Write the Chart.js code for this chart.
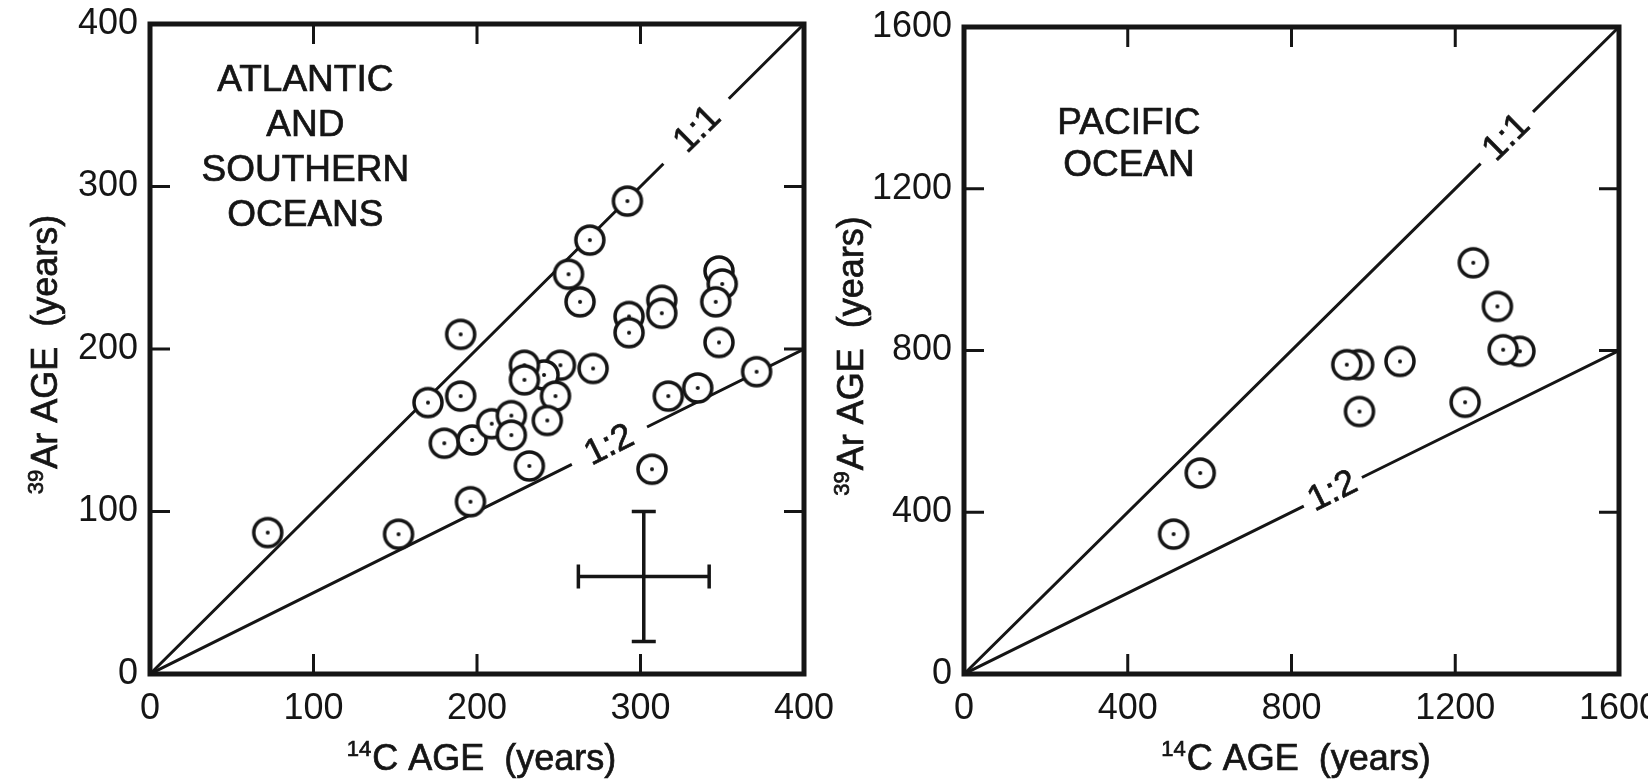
<!DOCTYPE html>
<html>
<head>
<meta charset="utf-8">
<title>39Ar vs 14C ages</title>
<script src="https://cdn.jsdelivr.net/npm/chart.js@4.4.1/dist/chart.umd.min.js"></script>
<style>
  html, body { margin: 0; padding: 0; background: #fff; }
  body { width: 1648px; height: 779px; position: relative; overflow: hidden; }
  .panel { position: absolute; top: 0; height: 779px; }
  #atlWrap { left: 0; width: 860px; }
  #pacWrap { left: 820px; width: 828px; }
</style>
</head>
<body>
<div class="panel" id="atlWrap"><canvas id="atlChart"></canvas></div>
<div class="panel" id="pacWrap"><canvas id="pacChart"></canvas></div>
<script>
/* ── Atlantic + Southern Oceans (left panel) ──────────────── */
const atlC14  = [72, 152, 170, 190, 190, 180, 197, 196, 209, 221, 221, 251, 241, 229, 229, 248, 243, 271, 232,
                 256, 263, 269, 292, 293, 293, 313, 313, 348, 350, 346, 348, 317, 335, 371, 307];
const atlAr39 = [87, 86, 167, 209, 171, 142, 144, 106, 154, 159, 147, 190, 184, 190, 181, 171, 156, 188, 128,
                 246, 229, 267, 291, 220, 210, 230, 222, 248, 240, 229, 204, 171, 176, 186, 126];
const atlTicks = [0, 100, 200, 300, 400];
const atlNote  = ['ATLANTIC', 'AND', 'SOUTHERN', 'OCEANS'];
// reference lines, broken where the ratio label sits
const atlRatio11 = [[0, 0], [314, 314], null, [354, 354], [400, 400]];
const atlRatio12 = [[0, 0], [258, 129], null, [304, 152], [400, 200]];
// typical error: centre and half-widths (years)
const atlErrCentre = [302, 60];
const atlErrHalf   = [40, 40];

/* ── Pacific Ocean (right panel) ──────────────────────────── */
const pacC14  = [512, 577, 964, 935, 966, 1065, 1224, 1244, 1303, 1358, 1317];
const pacAr39 = [346, 497, 765, 765, 649, 773, 672, 1017, 909, 798, 802];
const pacTicks = [0, 400, 800, 1200, 1600];
const pacNote  = ['PACIFIC', 'OCEAN'];
const pacRatio11 = [[0, 0], [1262, 1262], null, [1390, 1390], [1600, 1600]];
const pacRatio12 = [[0, 0], [830, 415], null, [972, 486], [1600, 800]];

const FONT = '"Liberation Sans", Arial, Helvetica, sans-serif';
const INK  = '#151515';

/* ── Helpers ──────────────────────────────────────────────── */
function toPoints(xs, ys) {
  return xs.map((x, i) => ({ x, y: ys[i] }));
}
function toSegments(pairs) {
  // null entry -> gap in the line
  const out = [];
  pairs.forEach((p, i) => {
    if (p === null) out.push({ x: pairs[i - 1][0], y: null });
    else out.push({ x: p[0], y: p[1] });
  });
  return out;
}
// circled-dot marker used as an image point style
function ringMarker(r, lw) {
  const s = Math.ceil(2 * r + lw + 2);
  const c = document.createElement('canvas');
  c.width = c.height = s;
  const g = c.getContext('2d');
  g.beginPath(); g.arc(s / 2, s / 2, r, 0, Math.PI * 2);
  g.fillStyle = '#fff'; g.fill();
  g.lineWidth = lw; g.strokeStyle = INK; g.stroke();
  g.beginPath(); g.arc(s / 2, s / 2, 2, 0, Math.PI * 2);
  g.fillStyle = INK; g.fill();
  return c;
}
const ring = ringMarker(14, 3.5);

// bolder text: fill plus a thin stroke (the scan looks heavy)
function heavyText(ctx, t, x, y) {
  ctx.fillText(t, x, y);
  ctx.strokeText(t, x, y);
}

// text with a leading superscript, centred at (0,0)
function supText(ctx, sup, main, size) {
  const supSize = Math.round(size * 0.62);
  ctx.font = `${supSize}px ${FONT}`;
  const ws = ctx.measureText(sup).width;
  ctx.font = `${size}px ${FONT}`;
  const wm = ctx.measureText(main).width;
  const x0 = -(ws + wm) / 2;
  const base = size * 0.36;
  ctx.textAlign = 'left';
  ctx.textBaseline = 'alphabetic';
  ctx.font = `${supSize}px ${FONT}`;
  heavyText(ctx, sup, x0, base - size * 0.4);
  ctx.font = `${size}px ${FONT}`;
  heavyText(ctx, main, x0 + ws + 1, base);
}

/* ── Decoration plugin: frame, inward ticks, labels, titles ── */
function decor(cfg) {
  return {
    id: 'decor',
    afterDatasetsDraw(chart) {
      const { ctx } = chart;
      const xs = chart.scales.x, ys = chart.scales.y;
      ctx.save();
      ctx.fillStyle = INK;
      ctx.strokeStyle = INK;
      ctx.lineWidth = 0.7;

      // region note
      ctx.font = `37px ${FONT}`;
      ctx.textAlign = 'center';
      ctx.textBaseline = 'middle';
      const nx = xs.getPixelForValue(cfg.noteAt[0]);
      const ny = ys.getPixelForValue(cfg.noteAt[1]);
      cfg.note.forEach((t, i) => heavyText(ctx, t, nx, ny + i * cfg.noteGap));

      // ratio labels along the lines
      cfg.ratioLabels.forEach(l => {
        const a = l.line[0], b = l.line[l.line.length - 1];
        const ang = Math.atan2(ys.getPixelForValue(b[1]) - ys.getPixelForValue(a[1]),
                               xs.getPixelForValue(b[0]) - xs.getPixelForValue(a[0]));
        ctx.save();
        ctx.translate(xs.getPixelForValue(l.at[0]), ys.getPixelForValue(l.at[1]));
        ctx.rotate(ang);
        ctx.font = `36px ${FONT}`;
        heavyText(ctx, l.text, 0, 0);
        ctx.restore();
      });

      // error cross
      if (cfg.err) {
        const [cx, cy] = cfg.err.centre, [hx, hy] = cfg.err.half;
        const x1 = xs.getPixelForValue(cx - hx), x2 = xs.getPixelForValue(cx + hx);
        const y1 = ys.getPixelForValue(cy - hy), y2 = ys.getPixelForValue(cy + hy);
        const px = xs.getPixelForValue(cx), py = ys.getPixelForValue(cy);
        const cap = 12;
        ctx.lineWidth = 3.5;
        ctx.beginPath();
        ctx.moveTo(x1, py); ctx.lineTo(x2, py);
        ctx.moveTo(px, y1); ctx.lineTo(px, y2);
        ctx.moveTo(x1, py - cap); ctx.lineTo(x1, py + cap);
        ctx.moveTo(x2, py - cap); ctx.lineTo(x2, py + cap);
        ctx.moveTo(px - cap, y1); ctx.lineTo(px + cap, y1);
        ctx.moveTo(px - cap, y2); ctx.lineTo(px + cap, y2);
        ctx.stroke();
      }
      ctx.restore();
    },
    afterDraw(chart) {
      const { ctx, chartArea: a } = chart;
      const xs = chart.scales.x, ys = chart.scales.y;
      ctx.save();
      ctx.strokeStyle = INK;
      ctx.fillStyle = INK;

      // inward ticks on all four sides
      const tl = 20;
      ctx.lineWidth = 3;
      ctx.beginPath();
      xs.ticks.slice(1, -1).forEach(t => {
        const p = xs.getPixelForValue(t.value);
        ctx.moveTo(p, a.bottom); ctx.lineTo(p, a.bottom - tl);
        ctx.moveTo(p, a.top); ctx.lineTo(p, a.top + tl);
      });
      ys.ticks.slice(1, -1).forEach(t => {
        const p = ys.getPixelForValue(t.value);
        ctx.moveTo(a.left, p); ctx.lineTo(a.left + tl, p);
        ctx.moveTo(a.right, p); ctx.lineTo(a.right - tl, p);
      });
      ctx.stroke();

      // heavy frame
      ctx.lineWidth = 5;
      ctx.strokeRect(a.left, a.top, a.right - a.left, a.bottom - a.top);

      // axis titles with superscripts
      ctx.lineWidth = 0.7;
      ctx.save();
      ctx.translate((a.left + a.right) / 2 + 4, 757);
      supText(ctx, '14', 'C AGE  (years)', 36);
      ctx.restore();

      ctx.save();
      ctx.translate(cfg.yTitleX, (a.top + a.bottom) / 2 + 6);
      ctx.rotate(-Math.PI / 2);
      supText(ctx, '39', 'Ar AGE  (years)', 36);
      ctx.restore();

      ctx.restore();
    }
  };
}

/* ── Chart builder ────────────────────────────────────────── */
function buildPanel(canvasId, p) {
  const tickFont = { family: FONT, size: 36 };
  const plain = v => String(v);           // no thousands separator
  const lineStyle = {
    type: 'scatter', showLine: true, spanGaps: false,
    borderColor: INK, borderWidth: 3, pointRadius: 0, order: 1
  };
  return new Chart(document.getElementById(canvasId), {
    type: 'scatter',
    data: {
      datasets: [
        { data: toPoints(p.xs, p.ys), pointStyle: ring, pointRadius: 15, order: 0 },
        Object.assign({ data: toSegments(p.r11) }, lineStyle),
        Object.assign({ data: toSegments(p.r12) }, lineStyle)
      ]
    },
    options: {
      responsive: true,
      maintainAspectRatio: false,
      animation: false,
      layout: { padding: { top: p.padTop, right: p.padRight, left: 0, bottom: 0 } },
      plugins: { legend: { display: false }, tooltip: { enabled: false } },
      scales: {
        x: {
          type: 'linear', min: p.ticks[0], max: p.ticks[p.ticks.length - 1],
          afterBuildTicks(s) { s.ticks = p.ticks.map(v => ({ value: v })); },
          ticks: { color: INK, font: tickFont, padding: 5, maxRotation: 0, autoSkip: false, callback: plain },
          grid: { display: false }, border: { display: false },
          afterFit(s) { s.height = 105; s.paddingLeft = 0; s.paddingRight = 0; }
        },
        y: {
          type: 'linear', min: p.ticks[0], max: p.ticks[p.ticks.length - 1],
          afterBuildTicks(s) { s.ticks = p.ticks.map(v => ({ value: v })); },
          ticks: { color: INK, font: tickFont, padding: 4, autoSkip: false, callback: plain },
          grid: { display: false }, border: { display: false },
          afterFit(s) { s.width = p.yWidth; s.paddingTop = 0; s.paddingBottom = 0; }
        }
      }
    },
    plugins: [decor(p.decor)]
  });
}

buildPanel('atlChart', {
  xs: atlC14, ys: atlAr39, r11: atlRatio11, r12: atlRatio12, ticks: atlTicks,
  padTop: 24, padRight: 56, yWidth: 150,
  decor: {
    note: atlNote, noteAt: [95, 365], noteGap: 45,
    ratioLabels: [
      { text: '1:1', at: [335, 335], line: atlRatio11 },
      { text: '1:2', at: [281, 140.5], line: atlRatio12 }
    ],
    err: { centre: atlErrCentre, half: atlErrHalf },
    yTitleX: 44
  }
});

buildPanel('pacChart', {
  xs: pacC14, ys: pacAr39, r11: pacRatio11, r12: pacRatio12, ticks: pacTicks,
  padTop: 27, padRight: 29, yWidth: 144,
  decor: {
    note: pacNote, noteAt: [403, 1360], noteGap: 42,
    ratioLabels: [
      { text: '1:1', at: [1326, 1326], line: pacRatio11 },
      { text: '1:2', at: [901, 450.5], line: pacRatio12 }
    ],
    err: null,
    yTitleX: 30
  }
});
</script>
</body>
</html>
